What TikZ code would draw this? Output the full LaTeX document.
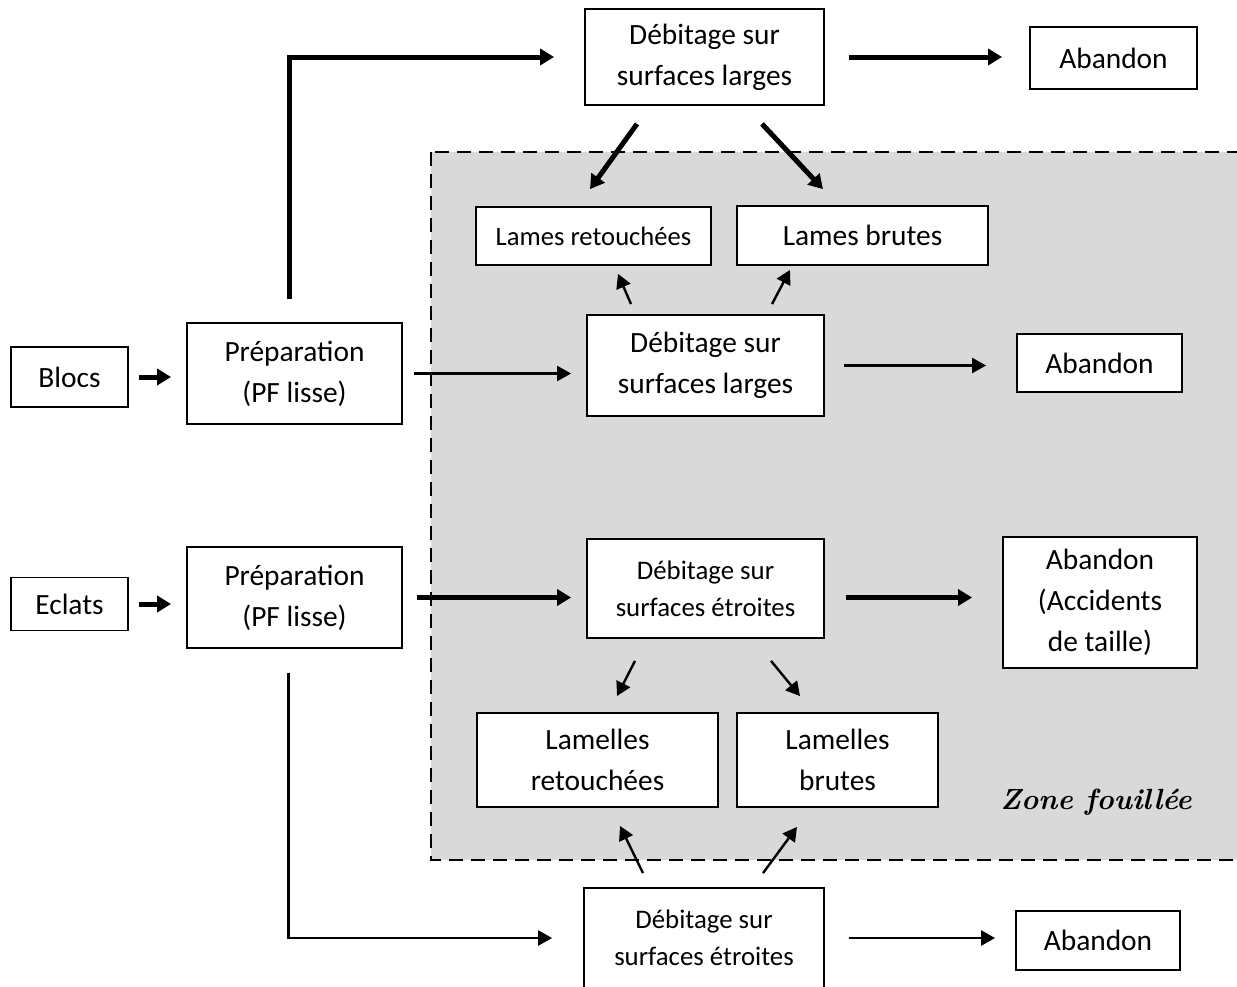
\documentclass[tikz,border=0pt]{standalone}
\usepackage{fontspec}
\newfontfamily\calibri{Carlito}
\usetikzlibrary{arrows.meta,calc}

\begin{document}
\begin{tikzpicture}[x=0.5pt, y=-0.5pt,
  box/.style={draw, line width=0.9pt, fill=white, inner sep=0pt, align=center, font=\calibri\fontsize{14.7}{20.5}\selectfont},
  small/.style={font=\calibri\fontsize{13.4}{18.5}\selectfont},
  fat/.style={line width=2.5pt, -{Triangle[length=7pt,width=8pt]}},
  slim/.style={line width=1.2pt, -{Triangle[length=7pt,width=7.5pt]}}]
\useasboundingbox (0,0) rectangle (1237,986);
\clip (0,0) rectangle (1237,986);
% zone fouillee
\draw[fill=gray!30, line width=1pt, dash pattern=on 7pt off 4pt] (431,152) rectangle (1250,860);
\node[font=\bfseries\itshape\fontsize{14.6}{18}\selectfont] (zone) at (1096,802) {Zone fouillée};

\node[box, minimum width=58.5pt, minimum height=30pt] (blocs) at (69.5,377) {Blocs};
\node[box, minimum width=107.5pt, minimum height=50.5pt] (prepA) at (294.5,373.5) {Préparation\\(PF lisse)};
\node[box, minimum width=58.5pt, minimum height=26.5pt] (eclats) at (69.5,604) {Eclats};
\node[box, minimum width=107.5pt, minimum height=50.5pt] (prepB) at (294.5,597.5) {Préparation\\(PF lisse)};
\node[box, minimum width=119.5pt, minimum height=48pt] (debA) at (704.5,57) {Débitage sur\\surfaces larges};
\node[box, minimum width=83.5pt, minimum height=31pt] (abA) at (1113.5,58) {Abandon};
\node[box, font=\calibri\fontsize{13.3}{16}\selectfont, minimum width=117.5pt, minimum height=29pt] (lamR) at (593.5,236) {Lames retouchées};
\node[box, minimum width=125.5pt, minimum height=29.5pt] (lamB) at (862.5,235.5) {Lames brutes};
\node[box, minimum width=118.5pt, minimum height=50.5pt] (debB) at (705.5,365.5) {Débitage sur\\surfaces larges};
\node[box, minimum width=82.5pt, minimum height=29pt] (abB) at (1099.5,363) {Abandon};
\node[box, small, minimum width=118.5pt, minimum height=49.5pt] (debC) at (705.5,588.5) {Débitage sur\\surfaces étroites};
\node[box, minimum width=97pt, minimum height=65.5pt] (abC) at (1100,602.5) {Abandon\\(Accidents\\de taille)};
\node[box, minimum width=120.5pt, minimum height=47pt] (lmR) at (597.5,760) {Lamelles\\retouchées};
\node[box, minimum width=100.5pt, minimum height=47pt] (lmB) at (837.5,760) {Lamelles\\brutes};
\node[box, small, minimum width=120pt, minimum height=50pt] (debD) at (704,938) {Débitage sur\\surfaces étroites};
\node[box, minimum width=82pt, minimum height=29.5pt] (abD) at (1098,940.5) {Abandon};

% blocs
\draw[fat, shorten <=5pt, shorten >=7.5pt] (blocs.east) -- (blocs.east -| prepA.west);
\draw[fat, shorten <=11.5pt, shorten >=15pt] ($(prepA.north)+(-5,0)$) |- (debA.west);
\draw[fat, shorten <=12pt, shorten >=13.5pt] (debA.east) -- (debA.east -| abA.west);
\draw[fat] ($(debA.south)+(-67.5,18)$) -- ($(lamR.north)+(-3.5,-17)$);
\draw[fat] ($(debA.south)+(57.5,18)$) -- ($(lamB.north)+(-39.5,-16)$);
\draw[slim, shorten <=5.5pt, shorten >=7.5pt] (prepA.east) -- (prepA.east -| debB.west);
\draw[slim, shorten <=9.5pt, shorten >=15pt] (debB.east) -- (debB.east -| abB.west);
\draw[slim] ($(debB.north)+(-74.5,-10)$) -- ($(lamR.south)+(24.5,8)$);
\draw[slim] ($(debB.north)+(66.5,-10)$) -- ($(lamB.south)+(-72.5,4)$);

% eclats
\draw[fat, shorten <=5pt, shorten >=7.5pt] (eclats.east) -- (eclats.east -| prepB.west);
\draw[fat, shorten <=7pt, shorten >=7.5pt] (prepB.east) -- (prepB.east -| debC.west);
\draw[fat, shorten <=10.5pt, shorten >=15pt] (prepB.east -| debC.east) -- (prepB.east -| abC.west);
\draw[slim] ($(debC.south)+(-70.5,22)$) -- ($(lmR.north)+(19.5,-16)$);
\draw[slim] ($(debC.south)+(65.5,22)$) -- ($(lmB.north)+(-37.5,-16)$);
\draw[slim, shorten <=12pt, shorten >=15.5pt] ($(prepB.south)+(-6,0)$) |- (debD.west);
\draw[slim, shorten <=12pt, shorten >=10pt] (debD.east) -- (debD.east -| abD.west);
\draw[slim] ($(debD.north)+(-61,-14)$) -- ($(lmR.south)+(22.5,18)$);
\draw[slim] ($(debD.north)+(59,-14)$) -- ($(lmB.south)+(-40.5,19)$);
\end{tikzpicture}
\end{document}
